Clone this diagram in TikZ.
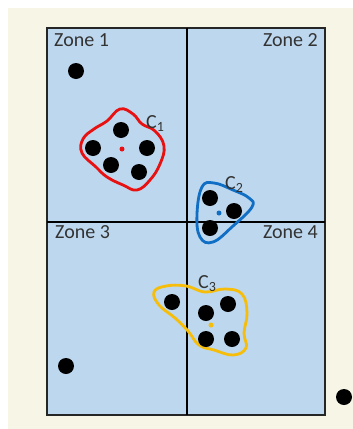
\documentclass[tikz,border=0pt]{standalone}
\usepackage{fontspec}
\setmainfont{Carlito}
\usepackage{tikz}

\definecolor{cream}{RGB}{247,246,230}
\definecolor{zoneblue}{RGB}{189,215,238}
\definecolor{cred}{RGB}{232,16,16}
\definecolor{cblue}{RGB}{16,110,196}
\definecolor{cgold}{RGB}{246,190,10}

\begin{document}
\begin{tikzpicture}[x=1pt,y=-1pt,
  dot/.style={circle,fill=black,inner sep=0pt,minimum size=16pt},
  centre/.style={circle,inner sep=0pt,minimum size=5pt},
  zonelabel/.style={font=\fontsize{20}{20}\selectfont,text=black!80,inner sep=0pt},
  clabel/.style={font=\fontsize{20}{20}\selectfont,text=black!80,inner sep=0pt,anchor=base west},
  hull/.style={line width=2.8pt,line join=round}]
  \useasboundingbox (0,0) rectangle (353,429);
  \fill[cream] (8,8) rectangle (353,429);
  % zones
  \draw[fill=zoneblue,draw=black!85,line width=2pt] (47,28) rectangle (325,415);
  \draw[line width=1.5pt] (187,28) -- (187,415);
  \draw[line width=1.5pt] (47,222) -- (325,222);
  \node[zonelabel,anchor=base west] (zone1) at (54,46) {Zone 1};
  \node[zonelabel,anchor=base east] (zone2) at (318,46) {Zone 2};
  \node[zonelabel,anchor=base west] (zone3) at (55,238) {Zone 3};
  \node[zonelabel,anchor=base east] (zone4) at (318,238) {Zone 4};
  % cluster outlines
  \draw[hull,cred] plot[smooth cycle,tension=0.7] coordinates {
    (120,109) (133,114) (142,124) (155,131) (164,146) (160,164)
    (150,180) (137,190) (123,185) (107,177) (96,167) (82,153)
    (83,139) (94,129) (107,121)};
  \draw[hull,cblue] plot[smooth cycle,tension=0.7] coordinates {
    (202,187) (214,183) (233,190) (249,198) (252,207) (233,226)
    (213,242) (200,237) (197,214)};
  \draw[hull,cgold] plot[smooth cycle,tension=0.7] coordinates {
    (154,292) (166,286) (186,286) (205,292) (225,289) (242,294)
    (247,313) (244,333) (246,348) (233,355) (214,350) (199,345)
    (188,331) (175,318) (159,305)};
  % points
  \node[dot] (p1) at (76,71) {};
  \node[dot] (p2) at (66,366) {};
  \node[dot] (p3) at (344,397) {};
  \node[dot] (a1) at (121,130) {};
  \node[dot] (a2) at (93,148) {};
  \node[dot] (a3) at (147,148) {};
  \node[dot] (a4) at (111,165) {};
  \node[dot] (a5) at (139,172) {};
  \node[dot] (b1) at (210,198) {};
  \node[dot] (b2) at (234,211) {};
  \node[dot] (b3) at (210,228) {};
  \node[dot] (c1) at (172,302) {};
  \node[dot] (c2) at (206,313) {};
  \node[dot] (c3) at (228,304) {};
  \node[dot] (c4) at (206,339) {};
  \node[dot] (c5) at (232,339) {};
  % centres
  \node[centre,fill=cred] (ca) at (122,149) {};
  \node[centre,fill=cblue] (cb) at (219,213) {};
  \node[centre,fill=cgold] (cc) at (211,325) {};
  \node[clabel] (la) at (146,128) {C\textsubscript{1}};
  \node[clabel] (lb) at (225,189) {C\textsubscript{2}};
  \node[clabel] (lc) at (198,288) {C\textsubscript{3}};
\end{tikzpicture}
\end{document}
